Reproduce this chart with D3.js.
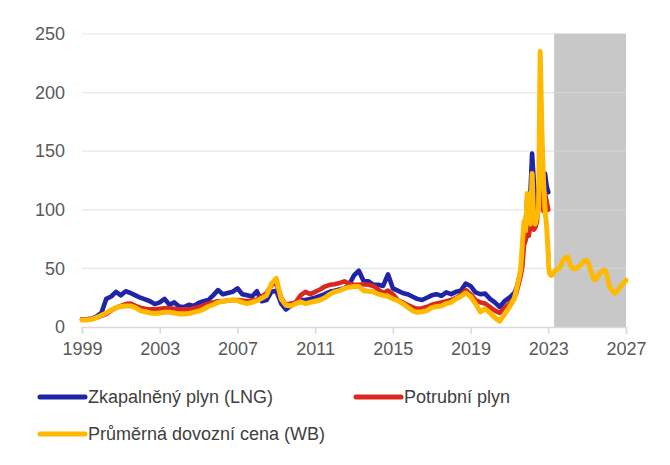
<!DOCTYPE html>
<html>
<head>
<meta charset="utf-8">
<script src="https://cdn.jsdelivr.net/npm/d3@7"></script>
<style>
  body { margin: 0; background: #fff; }
  svg text { font-family: "Liberation Sans", Arial, sans-serif; }
</style>
</head>
<body>
<div class="chart"></div>
<script>
// quarterly stamps 1999–2021Q2, then monthly through the 2022 spike
const quarterT = d3.range(1999, 2021.26, 0.25);
const monthT = [2021.333, 2021.417, 2021.5, 2021.583, 2021.667, 2021.75, 2021.833, 2021.917,
  2022.0, 2022.083, 2022.167, 2022.25, 2022.333, 2022.417, 2022.5, 2022.583, 2022.667,
  2022.75, 2022.833, 2022.917, 2023.0];
const histT = quarterT.concat(monthT);

const lng = [6.5, 6.5, 7, 9, 12, 24, 26, 30, 27, 30.5, 29, 27, 25, 23.5, 22, 19.5,
  21, 24, 19, 21, 17.5, 17, 19, 18, 20.5, 22, 23, 27, 31.5, 28, 29, 30,
  33, 28, 27, 26, 30.5, 22, 23, 30, 31, 20, 15, 18, 21, 23, 23, 24,
  25, 26.5, 28, 30, 31, 32, 33, 36, 44, 48, 39, 39, 36, 36, 35, 45,
  33, 31, 29, 28, 26, 24, 23, 25, 27, 28, 26.5, 29.5, 28, 30, 31, 37,
  35, 29.5, 28, 28.5, 24, 21, 17, 22, 25, 29,
  32, 36, 42, 48, 60, 80, 88, 110, 95, 115, 148, 125, 100, 100, 110, 140, 104,
  110, 131, 120, 115];

const pipe = [6.5, 6.5, 7, 8, 9.5, 11, 14, 16.5, 18, 19.5, 20, 18, 16.5, 15.5, 15, 15,
  15.5, 16, 16, 15.5, 15, 15, 15, 16, 17, 18.5, 20, 21, 22, 22, 22.5, 23,
  23, 22.5, 22, 22.5, 23.5, 26, 29, 35.5, 38, 25, 19, 20, 21, 27, 30, 28,
  30, 32, 34.5, 36, 36.5, 37.5, 39, 37, 36, 36, 36.5, 36, 35, 32, 29, 31,
  28, 23, 21, 19, 17, 15.5, 16, 17, 19, 20, 21, 22, 23, 25, 27, 31.5,
  28, 23, 21, 20, 17, 14, 12, 16, 20, 25,
  28, 33, 38, 44, 52, 70, 74, 80, 78, 88, 91, 83, 85, 90, 110, 137, 106,
  99, 114, 107, 100];

const wb = [6, 6, 6.5, 8, 10, 12, 14.5, 16.5, 17.5, 18, 18, 16.5, 14, 13, 12, 11.5,
  12, 12.5, 12.5, 12, 11, 11, 11.5, 12.5, 13.5, 15, 17.5, 19, 21, 22, 22.5, 23,
  22.5, 21, 20, 21, 22.5, 24.5, 27, 37, 41.5, 24, 18.5, 18, 20, 21.5, 20, 21,
  22, 23, 25, 28, 30, 31, 33, 34, 34.5, 34.5, 31, 30.5, 30, 28, 27, 26,
  24, 22.5, 20, 17, 14, 12.5, 13, 14, 16.5, 17.5, 18, 20, 21, 24, 26, 29,
  26, 20, 13, 15.5, 12, 8, 5, 11, 17, 24,
  30, 36, 42, 50, 71, 90, 82, 114, 91, 88, 131, 91, 88, 95, 100, 235, 170,
  125, 100, 85, 62];

// WB path after the last observed month
const forecastT = [2023.0, 2023.083, 2023.17, 2023.35, 2023.6, 2023.77, 2023.98, 2024.2,
  2024.46, 2024.8, 2024.97, 2025.23, 2025.4, 2025.66, 2025.92, 2026.17, 2026.43, 2026.69,
  2026.95, 2027.0];
const wbForecast = [62, 45, 44, 48, 51, 57, 60, 51, 50, 55.5, 57, 46, 40, 46, 48.5, 34,
  29, 34, 39, 40];

const forecastStart = 2023.3;
const xTicks = [1999, 2003, 2007, 2011, 2015, 2019, 2023, 2027];
const yTicks = [0, 50, 100, 150, 200, 250];

const seriesNames = ["Zkapalněný plyn (LNG)", "Potrubní plyn", "Průměrná dovozní cena (WB)"];
const seriesColors = ["#2024a6", "#d9281e", "#ffb900"];

const width = 670, height = 465;
const margin = { top: 34, right: 44, bottom: 138, left: 82 };

const x = d3.scaleLinear().domain([1999, 2027]).range([margin.left, width - margin.right]);
const y = d3.scaleLinear().domain([0, 250]).range([height - margin.bottom, margin.top]);

const svg = d3.select("div.chart").append("svg")
  .attr("width", width)
  .attr("height", height);

// grid
svg.append("g")
  .selectAll("line")
  .data(yTicks.filter(d => d > 0))
  .enter()
  .append("line")
  .attr("x1", x(1999)).attr("x2", x(2027))
  .attr("y1", d => y(d)).attr("y2", d => y(d))
  .attr("stroke", "#e6e6e6")
  .attr("stroke-width", 1.2);

// forecast band
svg.append("rect")
  .attr("x", x(forecastStart))
  .attr("y", y(250))
  .attr("width", x(2027) - x(forecastStart))
  .attr("height", y(0) - y(250))
  .attr("fill", "#c8c8c8");

// faint grid over the band
svg.append("g")
  .selectAll("line")
  .data(yTicks.filter(d => d > 0))
  .enter()
  .append("line")
  .attr("x1", x(forecastStart)).attr("x2", x(2027))
  .attr("y1", d => y(d)).attr("y2", d => y(d))
  .attr("stroke", "#d2d2d2")
  .attr("stroke-width", 1.2);

// x axis
const xAxis = svg.append("g")
  .attr("transform", `translate(0,${y(0)})`)
  .call(d3.axisBottom(x).tickValues(xTicks).tickFormat(d3.format("d")).tickSize(7).tickPadding(8));
xAxis.select(".domain").attr("stroke", "#d9d9d9").attr("stroke-width", 1.5);
xAxis.selectAll(".tick line").attr("stroke", "#d9d9d9").attr("stroke-width", 1.5);
xAxis.selectAll("text").attr("font-size", 18).attr("fill", "#595959")
  .style("font-family", "'Liberation Sans', Arial, sans-serif");

// y axis
const yAxis = svg.append("g")
  .attr("transform", `translate(${margin.left},0)`)
  .call(d3.axisLeft(y).tickValues(yTicks).tickSize(0).tickPadding(17));
yAxis.select(".domain").remove();
yAxis.selectAll("text").attr("font-size", 18).attr("fill", "#595959")
  .style("font-family", "'Liberation Sans', Arial, sans-serif");

const line = d3.line()
  .x(d => x(d[0]))
  .y(d => y(d[1]));

const histSeries = [lng, pipe, wb];
histSeries.forEach((vals, i) => {
  svg.append("path")
    .datum(histT.map((t, j) => [t, vals[j]]))
    .attr("fill", "none")
    .attr("stroke", seriesColors[i])
    .attr("stroke-width", i === 2 ? 5 : 4.6)
    .attr("stroke-linejoin", "round")
    .attr("stroke-linecap", "round")
    .attr("d", line);
});

svg.append("path")
  .datum(forecastT.map((t, j) => [t, wbForecast[j]]))
  .attr("fill", "none")
  .attr("stroke", seriesColors[2])
  .attr("stroke-width", 5)
  .attr("stroke-linejoin", "round")
  .attr("stroke-linecap", "round")
  .attr("d", line.curve(d3.curveCatmullRom));

// legend
const legendPos = [[40, 397], [356, 397], [40, 434]];
const legend = svg.append("g")
  .selectAll("g")
  .data(seriesNames)
  .enter()
  .append("g")
  .attr("transform", (d, i) => `translate(${legendPos[i][0]},${legendPos[i][1]})`);

legend.append("line")
  .attr("x1", 0).attr("x2", 45)
  .attr("stroke", (d, i) => seriesColors[i])
  .attr("stroke-width", 5)
  .attr("stroke-linecap", "round");

legend.append("text")
  .attr("x", 48)
  .attr("dy", "0.35em")
  .attr("font-size", 18)
  .attr("fill", "#404040")
  .text(d => d);
</script>
</body>
</html>
